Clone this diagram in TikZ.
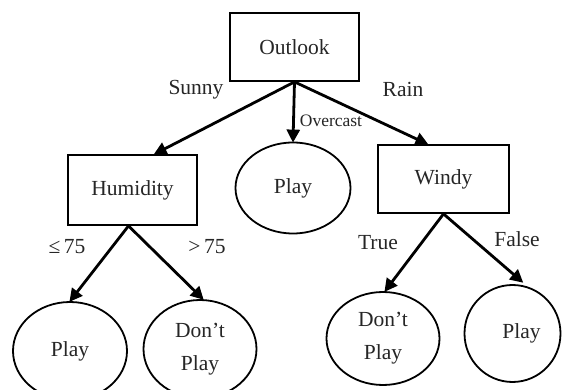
\documentclass[tikz,border=0pt]{standalone}
\usepackage{fontspec}
\setmainfont{Liberation Serif}
\usetikzlibrary{shapes.geometric,arrows.meta}
\begin{document}
\begin{tikzpicture}[x=1pt,y=-1pt,
  every node/.style={font=\fontsize{21.5}{33}\selectfont,text=black!85},
  testbox/.style={draw=black,line width=1.8pt,inner sep=0pt},
  leaf/.style={draw=black,ellipse,line width=1.8pt,inner sep=0pt,align=center},
  branch/.style={line width=2.8pt,-{Triangle[length=13pt,width=13pt]},shorten >=-1pt},
  lbl/.style={inner sep=0pt}]
\useasboundingbox (0,0) rectangle (568,390);
\clip (0,0) rectangle (568,390);
% decision nodes
\node[testbox,minimum width=129pt,minimum height=68pt] (o) at (294.5,47) {Outlook};
\node[testbox,minimum width=129pt,minimum height=70pt] (h) at (132.5,190) {Humidity};
\node[testbox,minimum width=131pt,minimum height=68pt] (w) at (443.5,179) {Windy};
% leaves
\node[leaf,minimum width=115pt,minimum height=91pt] (p0) at (293,188) {Play};
\node[leaf,minimum width=114pt,minimum height=98pt] (p1) at (70,351) {Play};
\node[leaf,minimum width=113pt,minimum height=98pt] (d1) at (200,349) {Don’t\\Play};
\node[leaf,minimum width=113pt,minimum height=93pt] (d2) at (383,338.5) {Don’t\\Play};
\node[leaf,minimum width=96pt,minimum height=97pt] (p2) at (512.5,333.5) {\hspace*{18pt}Play};
% branches
\draw[branch] (o.south) -- ([xshift=22pt]h.north);
\draw[branch] (o.south) -- (p0.north);
\draw[branch] (o.south) -- ([xshift=-16pt]w.north);
\draw[branch] ([xshift=-4pt]h.south) -- (p1.north);
\draw[branch] ([xshift=-4pt]h.south) -- ([xshift=3pt]d1.north);
\draw[branch] (w.south) -- ([xshift=2pt]d2.north);
\draw[branch] (w.south) -- ([xshift=10pt,yshift=2pt]p2.north);
% branch labels
\node[lbl] (ls) at (196,90) {Sunny};
\node[lbl] (lr) at (403,89) {Rain};
\node[lbl,font=\fontsize{17.5}{20}\selectfont] (lo) at (331,121) {Overcast};
\node[lbl] (ll) at (67,247) {≤\,75};
\node[lbl] (lg) at (207,247) {>\,75};
\node[lbl] (lt) at (378,243) {True};
\node[lbl] (lf) at (517,239) {False};
\end{tikzpicture}
\end{document}
